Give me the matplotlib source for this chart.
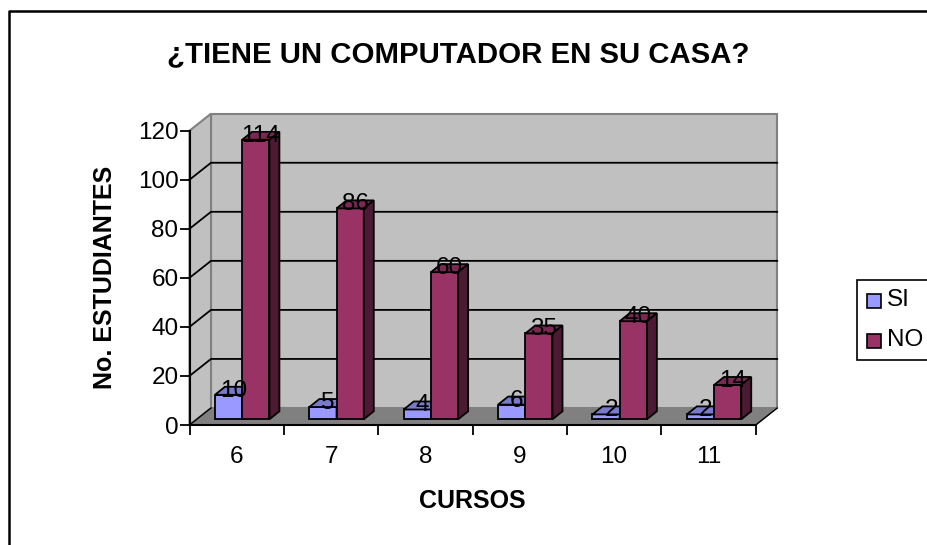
import matplotlib
matplotlib.use('Agg')
import matplotlib.pyplot as plt
from matplotlib.patches import Polygon, Rectangle

plt.rcParams['font.family'] = ['Liberation Sans', 'DejaVu Sans']

cursos = ['6', '7', '8', '9', '10', '11']
si_values = [10, 5, 4, 6, 2, 2]
no_values = [114, 86, 60, 35, 40, 14]
y_ticks = [0, 20, 40, 60, 80, 100, 120]

SI_FRONT, SI_TOP, SI_SIDE = '#9999ff', '#7a7acc', '#4d4d80'
NO_FRONT, NO_TOP, NO_SIDE = '#993366', '#7a2952', '#4d1a33'
WALL, FLOOR = '#c0c0c0', '#808080'

W, H = 927, 545
fig = plt.figure(figsize=(W / 100, H / 100), dpi=100)

# front plane of the fake 3d box, measured in pixels
left, right, top, bottom = 189.5, 755.7, 130.7, 425.0
ax = fig.add_axes([left / W, 1 - bottom / H, (right - left) / W, (bottom - top) / H])
ax.set_xlim(0, 6)
ax.set_ylim(0, 120)
ax.patch.set_visible(False)

px_x = 6 / (right - left)
px_y = 120 / (bottom - top)
DX, DY = 21.5 * px_x, 17 * px_y   # box depth
BX, BY = 10 * px_x, 8 * px_y      # bar depth
BASE = 5.7 * px_y                 # bars sit a bit behind the front edge
bar_w = 27.2 * px_x
si_off = 25.5 * px_x

# walls and floor
ax.add_patch(Polygon([(0, 0), (DX, DY), (6 + DX, DY), (6, 0)], fc=FLOOR, ec=FLOOR, lw=1, clip_on=False, zorder=1))
ax.add_patch(Polygon([(DX, DY), (DX, 120 + DY), (6 + DX, 120 + DY), (6 + DX, DY)], fc=WALL, ec=FLOOR, lw=1.5, clip_on=False, zorder=1))
ax.add_patch(Polygon([(0, 0), (0, 120), (DX, 120 + DY), (DX, DY)], fc=WALL, ec=FLOOR, lw=1.5, clip_on=False, zorder=1))

# gridlines on the back and side wall
for v in y_ticks[1:-1]:
    ax.plot([0, DX, 6 + DX], [v, v + DY, v + DY], color='black', lw=1.3, clip_on=False, zorder=2)
ax.plot([0, DX], [0, DY], color='black', lw=1, clip_on=False, zorder=2)
ax.plot([6, 6 + DX], [0, DY], color='black', lw=1, clip_on=False, zorder=2)


def draw_bars(xs, values, front, top_c, side):
    ax.bar(xs, values, bar_w, bottom=BASE, align='edge', color=front, edgecolor='black', lw=1.3, zorder=3)
    for x, v in zip(xs, values):
        y = BASE + v
        ax.add_patch(Polygon([(x, y), (x + BX, y + BY), (x + bar_w + BX, y + BY), (x + bar_w, y)],
                             fc=top_c, ec='black', lw=1.3, zorder=3))
        ax.add_patch(Polygon([(x + bar_w, BASE), (x + bar_w + BX, BASE + BY), (x + bar_w + BX, y + BY), (x + bar_w, y)],
                             fc=side, ec='black', lw=1.3, zorder=3))


si_x = [i + si_off for i in range(len(cursos))]
no_x = [x + bar_w for x in si_x]
draw_bars(si_x, si_values, SI_FRONT, SI_TOP, SI_SIDE)
draw_bars(no_x, no_values, NO_FRONT, NO_TOP, NO_SIDE)

# value labels
for x, v in zip(si_x, si_values):
    ax.text(x + bar_w / 2 + BX / 2, BASE + v + BY / 2, str(v), ha='center', va='center', fontsize=17.5, zorder=5)
for x, v in zip(no_x, no_values):
    ax.text(x + bar_w / 2 + BX / 2, BASE + v + BY / 2, str(v), ha='center', va='center', fontsize=17.5, zorder=5)

# axes
for s in ['top', 'right']:
    ax.spines[s].set_visible(False)
for s in ['left', 'bottom']:
    ax.spines[s].set_linewidth(1.5)
    ax.spines[s].set_zorder(6)
ax.set_xticks(range(7))
ax.set_xticklabels([])
ax.set_xticks([i + 0.5 for i in range(6)], cursos, minor=True)
ax.set_yticks(y_ticks)
ax.tick_params(axis='x', which='major', length=7, width=1.3, direction='out')
ax.tick_params(axis='x', which='minor', length=0, pad=15, labelsize=17.5)
ax.tick_params(axis='y', length=7, width=1.3, pad=1, labelsize=17.5)

fig.text(458 / W, 1 - 54 / H, '¿TIENE UN COMPUTADOR EN SU CASA?', ha='center', va='center', fontsize=21.2, fontweight='bold')
fig.text(472 / W, 1 - 501 / H, 'CURSOS', ha='center', va='center', fontsize=18, fontweight='bold')
fig.text(105 / W, 1 - 277 / H, 'No. ESTUDIANTES', ha='center', va='center', rotation=90, fontsize=18, fontweight='bold')

# chart frame, runs off the right and bottom of the picture
fig.add_artist(plt.Line2D([9 / W, 9 / W, 1], [0, 1 - 11 / H, 1 - 11 / H], color='black', lw=1.8))

# legend
fig.add_artist(Rectangle((857 / W, 1 - 359.5 / H), 80 / W, 80 / H, transform=fig.transFigure, fc='white', ec='black', lw=1.2))
for y, c, label in [(300.5, SI_FRONT, 'SI'), (340.5, NO_FRONT, 'NO')]:
    fig.add_artist(Rectangle((867 / W, 1 - (y + 7) / H), 14 / W, 14 / H, transform=fig.transFigure, fc=c, ec='black', lw=1.2))
    fig.text(887 / W, 1 - y / H, label, ha='left', va='center', fontsize=17.5)

fig.savefig('out.png', dpi=100)
